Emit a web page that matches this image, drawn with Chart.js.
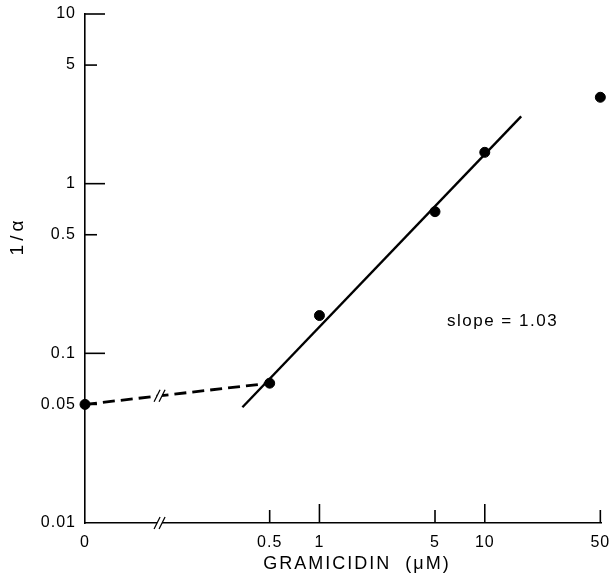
<!DOCTYPE html>
<html>
<head>
<meta charset="utf-8">
<script src="https://cdn.jsdelivr.net/npm/chart.js@4.4.0/dist/chart.umd.min.js"></script>
<style>
  html, body { margin: 0; padding: 0; background: #fff; }
</style>
</head>
<body>
<canvas id="chart" width="615" height="583"></canvas>
<script>
// gramicidin concentration (uM) and measured 1/alpha
const concentrations = [0, 0.5, 1, 5, 10, 50];
const invAlpha = [0.05, 0.0667, 0.167, 0.684, 1.53, 3.23];

// fitted line end points, slope 1.03
const fitX = [0.342, 16.6];
const fitY = [0.0481, 2.49];

// dashed link between 0 and 0.5
const dashX = [0, 0.5];
const dashY = [0.05, 0.0667];

const xTickValues = [0, 0.5, 1, 5, 10, 50];
const xTickLabels = ["0", "0.5", "1", "5", "10", "50"];
const xTickLong = [false, false, true, false, true, false];
const yTickValues = [0.01, 0.05, 0.1, 0.5, 1, 5, 10];
const yTickLabels = ["0.01", "0.05", "0.1", "0.5", "1", "5", "10"];
const yTickLong = [false, false, true, false, true, false, true];

// broken axis: zero sits to the left of the log part
const ZERO_POS = -1.418;
const BREAK_POS = -0.964;
const toU = v => (v === 0 ? ZERO_POS : Math.log10(v));
const pts = (xs, ys) => xs.map((x, i) => ({ x: toU(x), y: ys[i] }));

const FONT = "'Liberation Sans', Arial, sans-serif";

const decorations = {
  id: "decorations",
  beforeDraw(chart) {
    chart.ctx.letterSpacing = "1px";
  },
  afterDraw(chart) {
    const { ctx, scales: { x, y }, chartArea } = chart;
    ctx.save();
    ctx.strokeStyle = "#000";
    ctx.lineWidth = 1.6;

    // inward tick marks
    yTickValues.forEach((v, i) => {
      if (v === 0.01) return;
      const py = y.getPixelForValue(v);
      ctx.beginPath();
      ctx.moveTo(chartArea.left, py);
      ctx.lineTo(chartArea.left + (yTickLong[i] ? 20 : 12), py);
      ctx.stroke();
    });
    xTickValues.forEach((v, i) => {
      if (v === 0) return;
      const px = x.getPixelForValue(toU(v));
      ctx.beginPath();
      ctx.moveTo(px, chartArea.bottom);
      ctx.lineTo(px, chartArea.bottom - (xTickLong[i] ? 19 : 13));
      ctx.stroke();
    });

    // break marks on axis and on dashed line
    const bx = x.getPixelForValue(BREAK_POS);
    const x0 = x.getPixelForValue(toU(dashX[0]));
    const x1 = x.getPixelForValue(toU(dashX[1]));
    const y0 = y.getPixelForValue(dashY[0]);
    const y1 = y.getPixelForValue(dashY[1]);
    const by = y0 + (y1 - y0) * (bx - x0) / (x1 - x0);
    [chartArea.bottom, by].forEach(cy => {
      ctx.fillStyle = "#fff";
      ctx.fillRect(bx - 3, cy - 3, 5, 6);
      ctx.lineWidth = 1.3;
      [-3, 2].forEach(dx => {
        ctx.beginPath();
        ctx.moveTo(bx + dx - 3, cy + 6);
        ctx.lineTo(bx + dx + 3, cy - 6);
        ctx.stroke();
      });
    });

    ctx.fillStyle = "#000";
    ctx.textBaseline = "middle";
    ctx.font = "17px " + FONT;
    ctx.letterSpacing = "1.5px";
    ctx.fillText("slope = 1.03", 447, 321);

    ctx.font = "18px " + FONT;
    ctx.letterSpacing = "2px";
    ctx.textAlign = "center";
    ctx.fillText("GRAMICIDIN  (\u03BCM)", 357, 564);

    ctx.translate(18, 238);
    ctx.rotate(-Math.PI / 2);
    ctx.font = "19px " + FONT;
    ctx.letterSpacing = "4px";
    ctx.fillText("1/\u03B1", 2, 0);
    ctx.restore();
  }
};

new Chart(document.getElementById("chart"), {
  type: "scatter",
  data: {
    datasets: [
      {
        type: "line",
        data: pts(fitX, fitY),
        borderColor: "#000",
        borderWidth: 2.4,
        pointRadius: 0,
        fill: false
      },
      {
        type: "line",
        data: pts(dashX, dashY),
        borderColor: "#000",
        borderWidth: 2.8,
        borderDash: [12, 6],
        pointRadius: 0,
        fill: false
      },
      {
        data: pts(concentrations, invAlpha),
        backgroundColor: "#000",
        borderColor: "#000",
        pointRadius: 5,
        pointHoverRadius: 5
      }
    ]
  },
  options: {
    responsive: false,
    animation: false,
    clip: false,
    layout: { padding: { top: 14, right: 14, left: 0, bottom: 0 } },
    plugins: { legend: { display: false }, tooltip: { enabled: false } },
    scales: {
      x: {
        type: "linear",
        min: ZERO_POS,
        max: Math.log10(50) + 0.004,
        afterBuildTicks: s => { s.ticks = xTickValues.map(v => ({ value: toU(v) })); },
        afterFit: s => { s.height = 60; s.paddingLeft = 0; s.paddingRight = 0; },
        grid: { display: false, drawTicks: false },
        border: { display: true, color: "#000", width: 1.6 },
        ticks: {
          color: "#000",
          font: { family: FONT, size: 16 },
          padding: 10,
          maxRotation: 0,
          autoSkip: false,
          callback: (v, i) => xTickLabels[i]
        }
      },
      y: {
        type: "logarithmic",
        min: 0.01,
        max: 10,
        afterBuildTicks: s => { s.ticks = yTickValues.map(v => ({ value: v })); },
        afterFit: s => { s.width = 85; s.paddingTop = 0; s.paddingBottom = 0; },
        grid: { display: false, drawTicks: false },
        border: { display: true, color: "#000", width: 1.6 },
        ticks: {
          color: "#000",
          font: { family: FONT, size: 16 },
          padding: 9,
          autoSkip: false,
          callback: (v, i) => yTickLabels[i]
        }
      }
    }
  },
  plugins: [decorations]
});
</script>
</body>
</html>
